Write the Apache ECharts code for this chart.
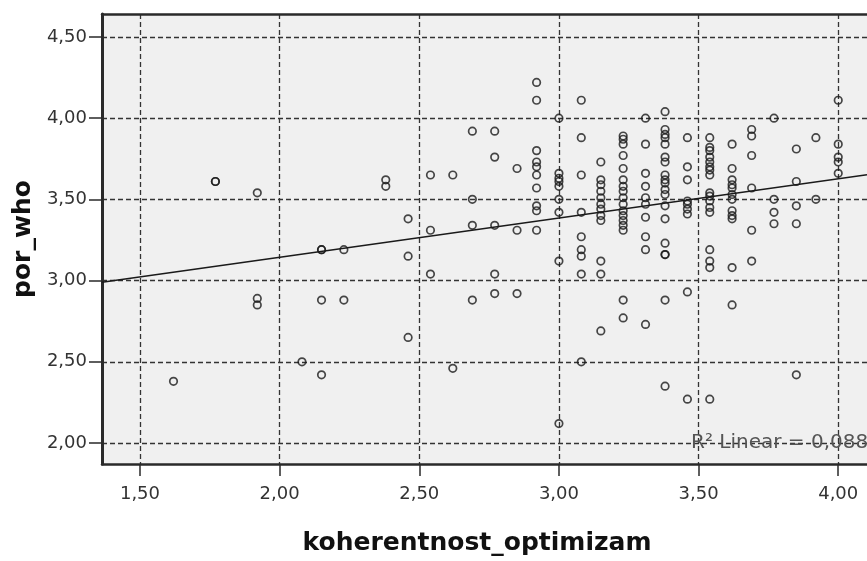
<!DOCTYPE html>
<html><head><meta charset="utf-8">
<script src="https://cdn.jsdelivr.net/npm/echarts@6/dist/echarts.min.js"></script>
<style>html,body{margin:0;padding:0;background:#fff;overflow:hidden}#c{width:867px;height:561px}</style>
</head><body><div id="c"></div>
<script>
// x levels (koherentnost_optimizam)
const xLevels = [1.62,1.77,1.92,2.08,2.15,2.23,2.38,2.46,2.54,2.62,2.69,2.77,2.85,2.92,3.00,3.08,3.15,3.23,3.31,3.38,3.46,3.54,3.62,3.69,3.77,3.85,3.92,4.00];
// por_who values observed at each x level
const yByLevel = [
  [2.38],
  [3.61,3.61],
  [3.54,2.89,2.85],
  [2.50],
  [3.19,3.19,2.88,2.42],
  [3.19,2.88],
  [3.62,3.58],
  [3.38,3.15,2.65],
  [3.65,3.31,3.04],
  [3.65,2.46],
  [3.92,3.50,3.34,2.88],
  [3.92,3.76,3.34,3.04,2.92],
  [3.69,3.31,2.92],
  [4.22,4.11,3.80,3.73,3.70,3.65,3.57,3.46,3.43,3.31],
  [4.00,3.66,3.63,3.61,3.58,3.50,3.42,3.12,2.12],
  [4.11,3.88,3.65,3.42,3.27,3.19,3.15,3.04,2.50],
  [3.73,3.62,3.59,3.55,3.51,3.47,3.44,3.40,3.37,3.12,3.04,2.69],
  [3.89,3.87,3.84,3.77,3.69,3.62,3.58,3.55,3.51,3.47,3.43,3.40,3.37,3.34,3.31,2.88,2.77],
  [4.00,3.84,3.66,3.58,3.51,3.47,3.39,3.27,3.19,2.73],
  [4.04,3.93,3.90,3.88,3.84,3.76,3.73,3.65,3.62,3.60,3.56,3.53,3.46,3.38,3.23,3.16,3.16,2.88,2.35],
  [3.88,3.70,3.62,3.49,3.47,3.44,3.41,2.93,2.27],
  [3.88,3.82,3.80,3.76,3.73,3.70,3.68,3.65,3.54,3.52,3.49,3.45,3.42,3.19,3.12,3.08,2.27],
  [3.84,3.69,3.62,3.59,3.57,3.53,3.50,3.43,3.40,3.38,3.08,2.85],
  [3.93,3.89,3.77,3.57,3.31,3.12],
  [4.00,3.50,3.42,3.35],
  [3.81,3.61,3.46,3.35,2.42],
  [3.88,3.50],
  [4.11,3.84,3.76,3.73,3.66]
];
const xTicks = [1.5,2.0,2.5,3.0,3.5,4.0];
const yTicks = [2.0,2.5,3.0,3.5,4.0,4.5];
const xRange = [1.364, 4.103];
const yRange = [1.871, 4.641];
const xTitle = 'koherentnost_optimizam';
const yTitle = 'por_who';
const fitLabel = 'R\u00B2 Linear = 0,088';

const points = [];
xLevels.forEach((x, i) => yByLevel[i].forEach(y => points.push([x, y])));

// least squares fit from the data
const n = points.length;
let sx = 0, sy = 0, sxx = 0, sxy = 0;
points.forEach(([x, y]) => { sx += x; sy += y; sxx += x * x; sxy += x * y; });
const slope = (n * sxy - sx * sy) / (n * sxx - sx * sx);
const intercept = (sy - slope * sx) / n;
const fitLine = [[xRange[0], intercept + slope * xRange[0]], [xRange[1], intercept + slope * xRange[1]]];

const fmt = v => v.toFixed(2).replace('.', ',');
const FONT = '"DejaVu Sans", Arial, sans-serif';
const dash = { color: '#333', width: 1.3, type: [5, 3] };
const frame = { color: '#2a2a2a', width: 2.5 };

const chart = echarts.init(document.getElementById('c'), null, { renderer: 'canvas' });
chart.setOption({
  animation: false,
  backgroundColor: '#ffffff',
  grid: { left: 102, top: 14, bottom: 95, right: 0, show: true, backgroundColor: '#f0f0f0', borderWidth: 0 },
  xAxis: [{
    type: 'value', min: xRange[0], max: xRange[1], position: 'bottom',
    name: xTitle, nameLocation: 'middle', nameGap: 67,
    nameTextStyle: { fontFamily: FONT, fontWeight: 'bold', fontSize: 25, color: '#111', padding: [0, 15, 0, 0] },
    axisLine: { show: true, onZero: false, lineStyle: frame },
    axisTick: { show: true, customValues: xTicks, length: 12, lineStyle: { color: '#2a2a2a', width: 1.5 } },
    axisLabel: { customValues: xTicks, formatter: fmt, margin: 21, fontFamily: FONT, fontSize: 18, color: '#333' },
    splitLine: { show: true, lineStyle: dash }
  }, {
    type: 'value', min: xRange[0], max: xRange[1], position: 'top',
    axisLine: { show: true, onZero: false, lineStyle: frame },
    axisTick: { show: false }, axisLabel: { show: false }, splitLine: { show: false }
  }],
  yAxis: {
    type: 'value', min: yRange[0], max: yRange[1],
    name: yTitle, nameLocation: 'middle', nameGap: 60, nameRotate: 90,
    nameTextStyle: { fontFamily: FONT, fontWeight: 'bold', fontSize: 25, color: '#111' },
    axisLine: { show: true, onZero: false, lineStyle: { color: '#2a2a2a', width: 3 } },
    axisTick: { show: true, customValues: yTicks, length: 13, lineStyle: { color: '#2a2a2a', width: 1.5 } },
    axisLabel: { customValues: yTicks, formatter: fmt, margin: 15, fontFamily: FONT, fontSize: 18, color: '#333' },
    splitLine: { show: true, lineStyle: dash }
  },
  series: [
    {
      type: 'scatter', data: points, symbol: 'circle', symbolSize: 7.5,
      itemStyle: { color: 'rgba(0,0,0,0)', borderColor: '#1a1a1a', borderWidth: 1.7 },
      z: 3
    },
    {
      type: 'line', data: fitLine, symbol: 'none', silent: true,
      lineStyle: { color: '#1a1a1a', width: 1.5 }, z: 4
    }
  ],
  graphic: [{
    type: 'text', left: 691, top: 433, z: 1,
    style: { text: fitLabel, fontFamily: FONT, fontSize: 20, fill: '#555' }
  }]
});
</script></body></html>
